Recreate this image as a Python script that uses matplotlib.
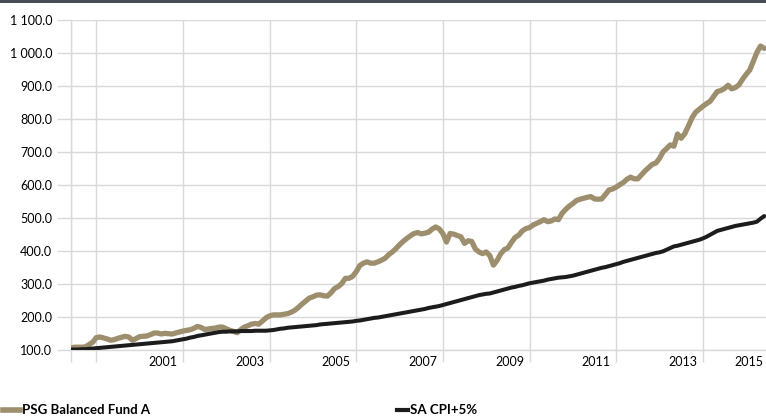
import matplotlib
matplotlib.use("Agg")
import matplotlib.pyplot as plt
from matplotlib.lines import Line2D
from matplotlib.patches import Rectangle
import numpy as np

# Monthly observations, mid-1999 .. mid-2015 (month index 0..192)
fund_values = [
    105, 107, 107, 107, 108, 115, 122, 136, 138, 135,
    132, 128, 130, 134, 137, 140, 138, 128, 133, 139,
    140, 141, 145, 150, 150, 147, 149, 148, 147, 150,
    153, 156, 158, 160, 164, 170, 167, 161, 162, 164,
    165, 168, 168, 163, 158, 155, 151, 160, 168, 172,
    177, 179, 177, 186, 196, 202, 205, 205, 205, 207,
    209, 213, 219, 228, 238, 247, 256, 260, 265, 266,
    263, 262, 272, 285, 291, 300, 316, 316, 322, 336,
    355, 362, 366, 362, 362, 366, 371, 377, 388, 396,
    406, 418, 428, 437, 445, 452, 455, 451, 453, 456,
    465, 472, 466, 452, 426, 452, 450, 446, 442, 422,
    430, 428, 405, 396, 391, 396, 385, 356, 370, 390,
    403, 408, 425, 440, 447, 460, 467, 470, 478, 483,
    488, 494, 488, 490, 496, 494, 513, 525, 535, 543,
    552, 556, 559, 562, 564, 557, 556, 557, 570, 584,
    587, 593, 600, 607, 617, 623, 618, 618, 630, 642,
    652, 662, 666, 680, 700, 710, 721, 717, 754, 741,
    755, 778, 803, 820, 829, 838, 846, 853, 868, 883,
    886, 892, 902, 891, 895, 903, 920, 935, 948, 975,
    1002, 1021, 1014,
]

cpi_values = [
    100, 100, 100, 101, 101, 102, 103, 104, 105, 106,
    107, 108, 109, 110, 111, 112, 113, 114, 115, 116,
    117, 118, 119, 120, 121, 122, 123, 124, 125, 127,
    129, 131, 133, 136, 138, 141, 143, 145, 147, 149,
    151, 153, 154, 154, 155, 155, 155, 156, 156, 156,
    156, 157, 157, 157, 157, 158, 159, 161, 163, 164,
    166, 167, 168, 169, 170, 171, 172, 173, 174, 176,
    177, 178, 179, 180, 181, 182, 183, 184, 185, 187,
    188, 190, 192, 194, 196, 197, 199, 201, 203, 205,
    207, 209, 211, 213, 215, 217, 219, 221, 223, 226,
    228, 230, 232, 235, 238, 241, 244, 247, 250, 253,
    256, 259, 262, 265, 267, 269, 270, 273, 276, 279,
    282, 285, 288, 290, 293, 295, 298, 301, 303, 305,
    307, 309, 312, 314, 316, 318, 319, 320, 322, 324,
    327, 330, 333, 336, 339, 342, 345, 348, 350, 353,
    356, 359, 362, 366, 369, 372, 375, 378, 381, 384,
    387, 390, 393, 395, 398, 403, 408, 413, 415, 418,
    421, 424, 427, 430, 433, 437, 442, 448, 454, 460,
    463, 466, 469, 472, 475, 477, 479, 481, 483, 485,
    488, 497, 505,
]

series_names = ["PSG Balanced Fund A", "SA CPI+5%"]
year_labels = ["2001", "2003", "2005", "2007", "2009", "2011", "2013", "2015"]
label_months = [25.5, 49.5, 73.5, 97.5, 121.5, 145.5, 169.5, 187.8]
tick_months = [0, 7, 31, 55, 79, 103, 127, 151, 175]
y_ticks = [100, 200, 300, 400, 500, 600, 700, 800, 900, 1000, 1100]

TAN = "#9d8f6d"
DARK = "#1c1c1c"
GRID = "#d9d9d9"
FONT = "Lato"

plt.rcParams["font.family"] = [FONT, "DejaVu Sans"]

fig = plt.figure(figsize=(7.66, 4.19), dpi=100)
W, H = 766, 419
ax = fig.add_axes([71 / W, 1 - 349.5 / H, (766 - 71) / W, (349.5 - 20) / H])

months = np.arange(len(fund_values))
ax.plot(months, fund_values, color=TAN, lw=3.8, solid_joinstyle="round", solid_capstyle="round", zorder=3)
ax.plot(months, cpi_values, color=DARK, lw=2.9, solid_joinstyle="round", solid_capstyle="round", zorder=4)

ax.set_xlim(0, 192.5)
ax.set_ylim(100, 1100)

ax.set_yticks(y_ticks)
ax.set_yticklabels([f"{v:,.1f}".replace(",", " ") for v in y_ticks])
ax.set_xticks(tick_months)
ax.set_xticklabels([])
ax.set_xticks(label_months, minor=True)
ax.set_xticklabels(year_labels, minor=True)

ax.grid(True, axis="both", color=GRID, lw=1.0, zorder=0)
ax.tick_params(axis="y", which="major", length=10, color=GRID, width=1.0, pad=3.5,
               labelsize=9, labelcolor="#000000")
ax.tick_params(axis="x", which="major", length=8.6, color=GRID, width=1.0)
ax.tick_params(axis="x", which="minor", length=0, pad=5, labelsize=9, labelcolor="#000000")
for s in ["top", "right"]:
    ax.spines[s].set_visible(False)
ax.spines["left"].set_color(GRID)
ax.spines["bottom"].set_color(GRID)
ax.spines["left"].set_linewidth(1.0)
ax.spines["bottom"].set_linewidth(1.0)

# dark band at the top
fig.add_artist(Rectangle((0, 1 - 3 / H), 1, 3 / H, transform=fig.transFigure,
                         color="#474d55", lw=0))

# legend
ly = 1 - 410 / H
for (x0, x1, tx, name, col, lw) in [(3, 20, 22, series_names[0], TAN, 4.0),
                                     (397, 408, 410, series_names[1], DARK, 3.0)]:
    fig.add_artist(Line2D([x0 / W, x1 / W], [ly, ly], transform=fig.transFigure,
                          color=col, lw=lw))
    fig.text(tx / W, ly, name, ha="left", va="center", fontsize=9.5,
             fontweight="bold", color="#000000")

fig.savefig("out.png", dpi=100)
